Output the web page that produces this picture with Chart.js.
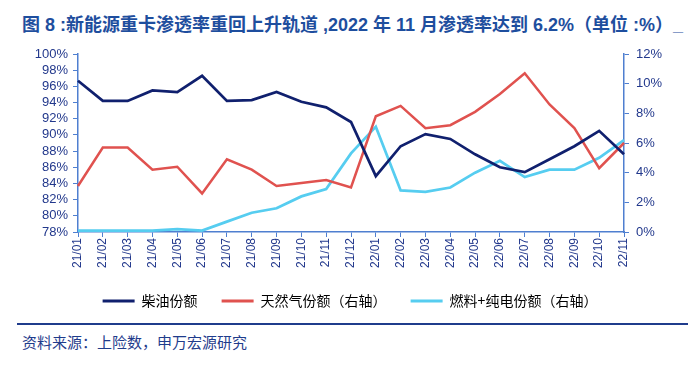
<!DOCTYPE html>
<html>
<head>
<meta charset="utf-8">
<script src="https://cdn.jsdelivr.net/npm/chart.js@4.4.0/dist/chart.umd.min.js"></script>
<style>
  html, body { margin: 0; padding: 0; background: #ffffff; width: 700px; height: 378px; overflow: hidden; }
  #title { position: absolute; left: 22px; top: 10px; font: bold 18px "Liberation Sans", "Noto Sans CJK SC", sans-serif; color: #1e4e9e; white-space: nowrap; }
  #wrap { position: absolute; left: 0; top: 0; width: 700px; height: 318px; }
  #rule { position: absolute; left: 17px; top: 323px; width: 671px; height: 2px; background: #1f3c8c; }
  #source { position: absolute; left: 22px; top: 331px; font: 15px "Noto Sans CJK SC", sans-serif; color: #1f3c8c; white-space: nowrap; }
</style>
</head>
<body>
<div id="title">图 8 :新能源重卡渗透率重回上升轨道 ,2022 年 11 月渗透率达到 6.2%（单位 :%）_</div>
<div id="wrap"><canvas id="c" width="700" height="318"></canvas></div>
<div id="rule"></div>
<div id="source">资料来源：上险数，申万宏源研究</div>
<script>
// ---- data ----
const months = ['21/01','21/02','21/03','21/04','21/05','21/06','21/07','21/08','21/09','21/10','21/11','21/12',
                '22/01','22/02','22/03','22/04','22/05','22/06','22/07','22/08','22/09','22/10','22/11'];
// 柴油份额 (left axis, %)
const dieselShare = [96.7, 94.2, 94.2, 95.5, 95.3, 97.3, 94.2, 94.3, 95.3, 94.1, 93.4, 91.6,
                     84.9, 88.6, 90.1, 89.5, 87.6, 86.0, 85.4, 87.0, 88.6, 90.5, 87.6];
// 天然气份额 (right axis, %)
const gasShare = [3.1, 5.7, 5.7, 4.2, 4.4, 2.6, 4.9, 4.2, 3.1, 3.3, 3.5, 3.0,
                  7.8, 8.5, 7.0, 7.2, 8.1, 9.3, 10.7, 8.6, 7.0, 4.3, 6.0];
// 燃料+纯电份额 (right axis, %)
const newEnergyShare = [0.1, 0.1, 0.1, 0.1, 0.2, 0.1, 0.7, 1.3, 1.6, 2.4, 2.9, 5.3,
                        7.1, 2.8, 2.7, 3.0, 4.0, 4.8, 3.7, 4.2, 4.2, 5.0, 6.2];
const seriesNames = ['柴油份额', '天然气份额（右轴）', '燃料+纯电份额（右轴）'];
const leftRange = [78, 100];
const rightRange = [0, 12];
const tickStep = 2;

// ---- styling ----
const axisColor = '#4f7fd0';
const tickColor = '#22388c';
const latin = "'Liberation Sans', Arial, sans-serif";
const cjk = "'Noto Sans CJK SC', 'Liberation Sans', sans-serif";

const axisCommon = {
  grid: { display: true, drawOnChartArea: false, drawTicks: true, tickLength: 5, color: axisColor, lineWidth: 1 },
  border: { display: true, color: axisColor, width: 1.5 }
};

new Chart(document.getElementById('c'), {
  type: 'line',
  data: {
    labels: months,
    datasets: [
      { label: seriesNames[0], data: dieselShare, yAxisID: 'y', borderColor: '#10206e', backgroundColor: '#10206e', borderWidth: 2.75, pointRadius: 0, tension: 0 },
      { label: seriesNames[1], data: gasShare, yAxisID: 'y1', borderColor: '#e0524f', backgroundColor: '#e0524f', borderWidth: 2.5, pointRadius: 0, tension: 0 },
      { label: seriesNames[2], data: newEnergyShare, yAxisID: 'y1', borderColor: '#56cdf0', backgroundColor: '#56cdf0', borderWidth: 2.75, pointRadius: 0, tension: 0 }
    ]
  },
  options: {
    responsive: false,
    animation: false,
    devicePixelRatio: 1,
    layout: { padding: { left: 0, right: 0, top: 54, bottom: 0 } },
    plugins: {
      tooltip: { enabled: false },
      title: { display: false },
      legend: {
        display: true,
        position: 'bottom',
        labels: {
          boxWidth: 32,
          boxHeight: 3,
          padding: 24,
          color: '#16296c',
          font: { size: 14, family: cjk },
          generateLabels(chart) {
            return chart.data.datasets.map((ds, i) => ({
              text: ds.label, fillStyle: ds.borderColor, strokeStyle: ds.borderColor,
              lineWidth: 0, hidden: false, datasetIndex: i
            }));
          }
        }
      }
    },
    scales: {
      x: Object.assign({}, axisCommon, {
        type: 'category',
        offset: false,
        ticks: { autoSkip: false, minRotation: 90, maxRotation: 90, padding: 1, color: tickColor, font: { size: 12, family: latin } },
        afterFit(s) { s.height = 38; }
      }),
      y: Object.assign({}, axisCommon, {
        position: 'left',
        min: leftRange[0], max: leftRange[1],
        ticks: { autoSkip: false, stepSize: tickStep, padding: 5, color: tickColor, font: { size: 13, family: latin }, callback: v => v + '%' },
        afterFit(s) { s.width = 78; }
      }),
      y1: Object.assign({}, axisCommon, {
        position: 'right',
        min: rightRange[0], max: rightRange[1],
        ticks: { autoSkip: false, stepSize: tickStep, padding: 7, color: tickColor, font: { size: 13, family: latin }, callback: v => v + '%' },
        afterFit(s) { s.width = 76; }
      })
    }
  }
});
</script>
</body>
</html>
